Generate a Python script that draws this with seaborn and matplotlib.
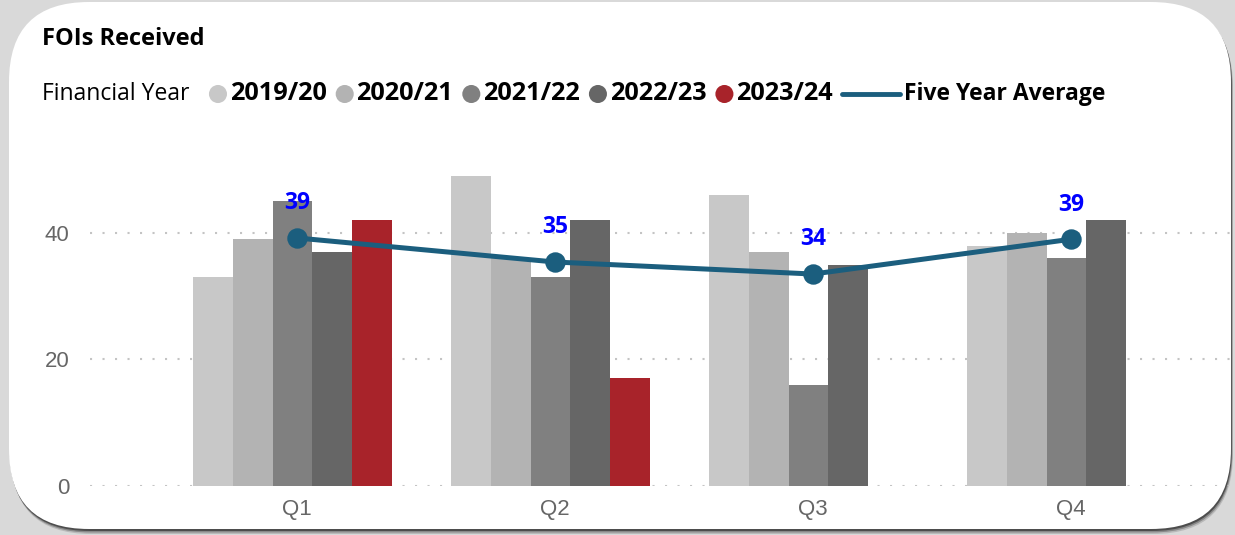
import numpy as np
import pandas as pd
import seaborn as sns
import matplotlib.pyplot as plt
from matplotlib.patches import FancyBboxPatch, Circle
from matplotlib.lines import Line2D
from matplotlib.transforms import ScaledTranslation
from matplotlib.offsetbox import TextArea, DrawingArea, HPacker, AnchoredOffsetbox

# ---- data -------------------------------------------------------------
quarters = ["Q1", "Q2", "Q3", "Q4"]
years = ["2019/20", "2020/21", "2021/22", "2022/23", "2023/24"]
fy_2019_20 = [33, 49, 46, 38]
fy_2020_21 = [39, 36, 37, 40]
fy_2021_22 = [45, 33, 16, 36]
fy_2022_23 = [37, 42, 35, 42]
fy_2023_24 = [42, 17, np.nan, np.nan]
y_ticks = [0, 20, 40]

year_colors = ["#C8C8C8", "#B3B3B3", "#808080", "#666666", "#A8232A"]
avg_color = "#1B5E7E"
label_blue = "#0000FF"
tick_grey = "#666666"

series = [fy_2019_20, fy_2020_21, fy_2021_22, fy_2022_23, fy_2023_24]
df = pd.DataFrame(
    [(q, yr, v) for yr, vals in zip(years, series) for q, v in zip(quarters, vals)],
    columns=["quarter", "year", "count"],
).dropna()

# five year average per quarter (over the years that have data)
five_year_avg = np.nanmean(np.array(series, dtype=float), axis=0)

# ---- figure -----------------------------------------------------------
sns.set_style("white")
plt.rcParams["font.family"] = ["Open Sans", "DejaVu Sans"]

W, H = 1235, 535
fig = plt.figure(figsize=(W / 100, H / 100), dpi=100)
fig.patch.set_facecolor("#D9D9D9")

# background layer in pixel units: rounded white card with a soft shadow
bg = fig.add_axes([0, 0, 1, 1])
bg.set_xlim(0, W)
bg.set_ylim(H, 0)
bg.axis("off")
bg.set_zorder(0)
card_x, card_y, card_w, card_h, rad = 9, 2, 1222, 527, 80
for off, col, a in [(5, "#9a9a9a", 0.5), (3.5, "#6a6a6a", 0.6), (2, "#3f3f3f", 0.8)]:
    bg.add_patch(FancyBboxPatch((card_x + off * 0.4, card_y + off), card_w, card_h,
                                boxstyle=f"round,pad=0,rounding_size={rad}",
                                facecolor=col, edgecolor="none", alpha=a))
bg.add_patch(FancyBboxPatch((card_x, card_y), card_w, card_h,
                            boxstyle=f"round,pad=0,rounding_size={rad}",
                            facecolor="white", edgecolor="none"))

bg.text(42, 39, "FOIs Received", fontsize=17, fontweight="bold",
        va="center", ha="left", color="black")

# legend row
leg_fs = 16.5
items = [TextArea("Financial Year", textprops=dict(fontsize=leg_fs, color="black")),
         DrawingArea(1, 1)]
for yr, col in zip(years, year_colors):
    da = DrawingArea(13, 13)
    da.add_artist(Circle((6.5, 6.5), 6.5, facecolor=col, edgecolor="none"))
    items.append(HPacker(children=[da, TextArea(yr, textprops=dict(fontsize=18.2, fontweight="bold", color="black"))],
                         sep=2, align="center"))
la = DrawingArea(42, 13)
la.add_artist(Line2D([0, 42], [6.5, 6.5], color=avg_color, lw=3.5))
items.append(HPacker(children=[la, TextArea("Five Year Average", textprops=dict(fontsize=leg_fs, fontweight="bold", color="black"))],
                     sep=3, align="center"))
legend_box = AnchoredOffsetbox(loc="center left", child=HPacker(children=items, sep=6.5, align="center"),
                               pad=0, borderpad=0, frameon=False,
                               bbox_to_anchor=(42 / W, 1 - 94 / H), bbox_transform=fig.transFigure)
bg.add_artist(legend_box)

# ---- chart ------------------------------------------------------------
ax = fig.add_axes([90 / W, 49 / H, 1140 / W, 348 / H])
ax.set_zorder(1)
ax.patch.set_alpha(0)

sns.barplot(data=df, x="quarter", y="count", hue="year", order=quarters, hue_order=years,
            palette=year_colors, saturation=1, width=0.77, linewidth=0,
            errorbar=None, legend=False, ax=ax)
# bar groups sit a few pixels left of the category centre
nudge = ax.transData + ScaledTranslation(-4.5 / 100, 0, fig.dpi_scale_trans)
for p in ax.patches:
    p.set_transform(nudge)

sns.pointplot(x=quarters, y=five_year_avg, order=quarters, color=avg_color,
              markers="o", markersize=12, linewidth=3.6, errorbar=None, ax=ax)

for i, v in enumerate(five_year_avg):
    ax.annotate(f"{v:.0f}", (i, v), xytext=(0, 25), textcoords="offset points",
                ha="center", va="center", color=label_blue, fontsize=16.5,
                fontweight="bold", zorder=5)

ax.set_xlim((90 - 297) / 258, (1230 - 297) / 258)
ax.set_ylim(0, 55)
ax.set_yticks(y_ticks)
ax.set_xlabel("")
ax.set_ylabel("")
for s in ax.spines.values():
    s.set_visible(False)
ax.yaxis.grid(True, color="#C4C4C4", linestyle=(0, (1, 5)), linewidth=1.5)
ax.xaxis.grid(False)
ax.set_axisbelow(True)
ax.tick_params(axis="both", length=0, labelsize=16, labelcolor=tick_grey)
ax.tick_params(axis="y", pad=15)
ax.tick_params(axis="x", pad=9)
for lbl in ax.get_xticklabels() + ax.get_yticklabels():
    lbl.set_fontfamily(["Liberation Sans", "DejaVu Sans"])

fig.savefig("out.png", dpi=100, facecolor=fig.get_facecolor())
